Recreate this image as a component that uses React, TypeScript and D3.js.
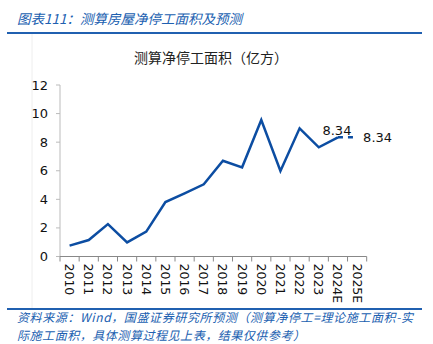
import React from "react";
import * as d3 from "d3";

const categories = ["2010","2011","2012","2013","2014","2015","2016","2017","2018","2019","2020","2021","2022","2023","2024E","2025E"];
const values = [0.76,1.15,2.27,0.99,1.74,3.81,4.42,5.05,6.7,6.24,9.55,5.98,8.97,7.64,8.34,8.34];
const yTicks = [0,2,4,6,8,10,12];

const BLUE = "#0c4da2";
const HEAD = "#2060b0";
const FONT = "'DejaVu Sans', Verdana, sans-serif";
const CJK = "'Noto Sans CJK SC', sans-serif";

export default function App() {
  const W = 433, H = 344;
  const left = 60, right = 366.7, top = 85, bottom = 256.5;
  const x = d3.scaleBand<string>().domain(categories).range([left, right]);
  const y = d3.scaleLinear().domain([0, 12]).range([bottom, top]);
  const cx = (c: string) => (x(c) as number) + x.bandwidth() / 2;
  const n = categories.length;
  const solid = categories.slice(0, n - 1).map((c, i) => [cx(c), y(values[i])] as [number, number]);
  const dashed = [n - 2, n - 1].map(i => [cx(categories[i]), y(values[i])] as [number, number]);
  const line = d3.line();
  return (
    <svg width={W} height={H} style={{ position: "absolute", left: 0, top: 0, background: "#fff" }}>
      <text x={17} y={24} fill={HEAD} fontSize={13.5} fontStyle="italic" fontFamily={CJK}>图表111：测算房屋净停工面积及预测</text>
      <line x1={7} x2={422} y1={33} y2={33} stroke={HEAD} strokeWidth={2} />
      <line x1={32} x2={32} y1={34} y2={308} stroke="#eeeeee" strokeWidth={1} />
      <text x={211} y={63} textAnchor="middle" fontSize={14} fill="#222" fontFamily={CJK}>测算净停工面积（亿方）</text>
      <line x1={left} x2={left} y1={top} y2={bottom} stroke="#bbb" />
      {yTicks.map(t => (
        <g key={t}>
          <line x1={left - 4} x2={left} y1={y(t)} y2={y(t)} stroke="#bbb" />
          <text x={left - 12} y={y(t)} dy="0.35em" textAnchor="end" fontSize={13} fill="#111" fontFamily={FONT}>{t}</text>
        </g>
      ))}
      <line x1={left} x2={right} y1={bottom} y2={bottom} stroke="#888" />
      {categories.map(c => (
        <line key={"t" + c} x1={(x(c) as number) + x.bandwidth()} x2={(x(c) as number) + x.bandwidth()} y1={bottom} y2={bottom + 5} stroke="#888" />
      ))}
      <line x1={left} x2={left} y1={bottom} y2={bottom + 5} stroke="#888" />
      {categories.map(c => (
        <text key={c} transform={`translate(${cx(c) - 4.5},${bottom + 7}) rotate(90)`} fontSize={12.5} fill="#111" fontFamily={FONT}>{c}</text>
      ))}
      <path d={line(solid) || ""} fill="none" stroke={BLUE} strokeWidth={2.5} strokeLinejoin="miter" />
      <path d={line(dashed) || ""} fill="none" stroke={BLUE} strokeWidth={2.5} strokeDasharray="5,5" />
      <text x={cx(categories[n - 2]) - 1} y={y(values[n - 2]) - 2} textAnchor="middle" fontSize={13} fill="#111" fontFamily={FONT}>{values[n - 2].toFixed(2)}</text>
      <text x={cx(categories[n - 1]) + 6} y={y(values[n - 1])} dy="0.35em" fontSize={13} fill="#111" fontFamily={FONT}>{values[n - 1].toFixed(2)}</text>
      <line x1={7} x2={422} y1={309} y2={309} stroke={HEAD} strokeWidth={2} />
      <text x={17} y={322} fill={HEAD} fontSize={12} fontStyle="italic" fontFamily={CJK} textLength={396} lengthAdjust="spacing">资料来源：Wind，国盛证券研究所预测（测算净停工=理论施工面积-实</text>
      <text x={17} y={339.5} fill={HEAD} fontSize={12} fontStyle="italic" fontFamily={CJK} textLength={288} lengthAdjust="spacing">际施工面积，具体测算过程见上表，结果仅供参考）</text>
    </svg>
  );
}
